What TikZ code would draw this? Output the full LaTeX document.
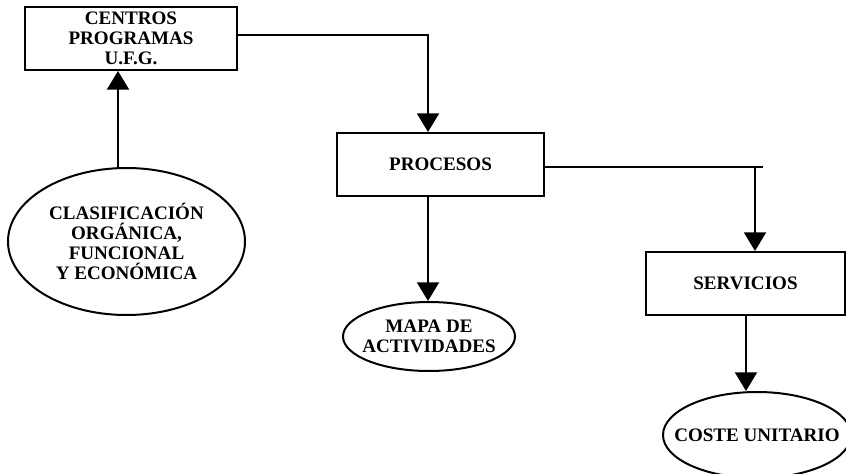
\documentclass[tikz,border=0pt]{standalone}
\usepackage{fontspec}
\setmainfont{Liberation Serif}
\usetikzlibrary{arrows.meta,shapes.geometric}

\tikzset{every picture/.style={line width=1.5pt}}
\tikzset{
  caja/.style={draw, rectangle, inner sep=0pt, minimum height=47.25pt, align=center, font=\fontsize{14.3}{14.8}\selectfont\bfseries},
  elipse/.style={draw, ellipse, inner xsep=-20pt, inner ysep=0pt, align=center, font=\fontsize{14.3}{14.8}\selectfont\bfseries},
  flecha/.style={-{Triangle[width=16.5pt,length=14pt]}}
}

\begin{document}
\begin{tikzpicture}[x=0.75pt,y=0.75pt,yscale=-1,xscale=1]
\useasboundingbox (0,0) rectangle (846,474);

%Shape: Rectangle
\node[caja, minimum width=159pt] (centros) at (131,38.5) {CENTROS\\PROGRAMAS\\U.F.G.};
%Shape: Rectangle
\node[caja, minimum width=155.25pt] (procesos) at (440.5,164.5) {PROCESOS};
%Shape: Rectangle
\node[caja, minimum width=149.25pt] (servicios) at (745.5,283.5) {SERVICIOS};
%Shape: Ellipse
\node[elipse, minimum width=177.75pt, minimum height=110.25pt] (clasif) at (126.5,241.5) {CLASIFICACIÓN\\ORGÁNICA,\\FUNCIONAL\\Y ECONÓMICA};
%Shape: Ellipse
\node[elipse, minimum width=129pt, minimum height=51.75pt] (mapa) at (429,336.5) {MAPA DE\\ACTIVIDADES};
%Shape: Ellipse
\node[elipse, minimum width=141pt, minimum height=64.5pt] (coste) at (757,435) {COSTE UNITARIO};

%columns of the vertical lines
\coordinate (colA) at (118,0);
\coordinate (colB) at (428,0);
\coordinate (colC) at (755,0);
\coordinate (colD) at (746,0);
\coordinate (finB) at (763,0);
\coordinate (ce) at ([yshift=-2.25pt]centros.east);
\coordinate (pe) at ([yshift=2pt]procesos.east);

%Straight Lines
\draw[flecha] (clasif.north -| colA) -- (centros.south -| colA);
%Straight Lines
\draw[flecha] (ce) -| (procesos.north -| colB);
%Straight Lines
\draw[flecha] (procesos.south -| colB) -- (mapa.north -| colB);
%Straight Lines
\draw (pe) -- (pe -| finB);
\draw[flecha] (pe -| colC) -- (servicios.north -| colC);
%Straight Lines
\draw[flecha] (servicios.south -| colD) -- (coste.north -| colD);

\end{tikzpicture}
\end{document}
